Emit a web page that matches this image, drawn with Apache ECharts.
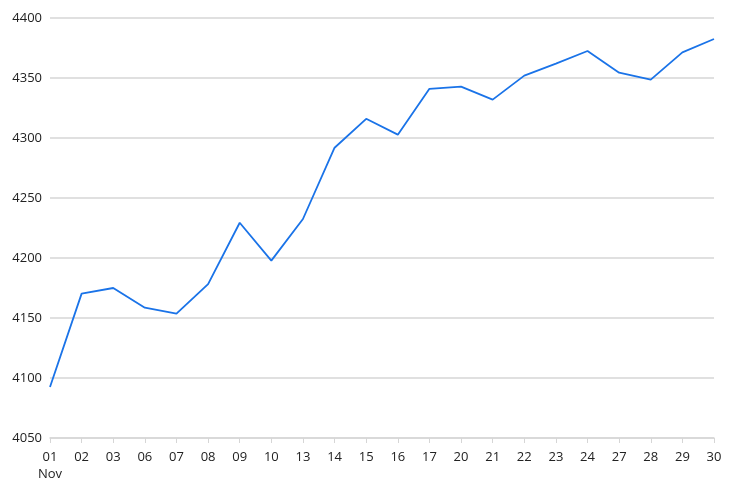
<!DOCTYPE html>
<html>
<head>
<meta charset="utf-8">
<script src="https://cdn.jsdelivr.net/npm/echarts@6/dist/echarts.min.js"></script>
<style>
  html, body { margin: 0; padding: 0; background: #fff; }
  #chart1 { width: 734px; height: 497px; }
</style>
</head>
<body>
<div id="chart1"></div>
<script>
var days = ['01', '02', '03', '06', '07', '08', '09', '10', '13', '14', '15',
  '16', '17', '20', '21', '22', '23', '24', '27', '28', '29', '30'];
var month = 'Nov';
var values = [4092.5, 4170.3, 4175, 4158.6, 4153.6, 4178.3, 4229.4, 4197.8, 4232.5, 4291.9, 4316,
  4302.8, 4341, 4342.8, 4332, 4352, 4362, 4372.5, 4354.4, 4348.6, 4371.4, 4382.5];
var lineColor = '#1a73e8';
var gridColor = '#d6d6d6';

var chartDom1 = document.getElementById('chart1');
var myChart1 = echarts.init(chartDom1);

var option1 = {
  animation: false,
  textStyle: { fontFamily: 'Open Sans' },
  grid: {
    left: 50,
    right: 20,
    top: 18,
    bottom: 59
  },
  xAxis: {
    type: 'category',
    data: days,
    boundaryGap: false,
    axisLine: { lineStyle: { color: gridColor, width: 1.5 } },
    axisTick: { show: true, length: 5, lineStyle: { color: gridColor } },
    axisLabel: {
      color: '#222',
      fontSize: 13,
      margin: 11,
      lineHeight: 17,
      interval: 0,
      formatter: function (val, idx) {
        return idx === 0 ? val + '\n' + month : val;
      }
    }
  },
  yAxis: {
    type: 'value',
    min: 4050,
    max: 4400,
    interval: 50,
    axisLine: { show: false },
    axisTick: { show: false },
    axisLabel: {
      color: '#222',
      fontSize: 13,
      margin: 8,
      formatter: function (v) { return String(v); }
    },
    splitLine: { lineStyle: { color: gridColor, width: 1.5 } }
  },
  series: [
    {
      type: 'line',
      data: values,
      color: lineColor,
      showSymbol: false,
      lineStyle: { width: 1.8, color: lineColor }
    }
  ]
};

myChart1.setOption(option1);
</script>
</body>
</html>
